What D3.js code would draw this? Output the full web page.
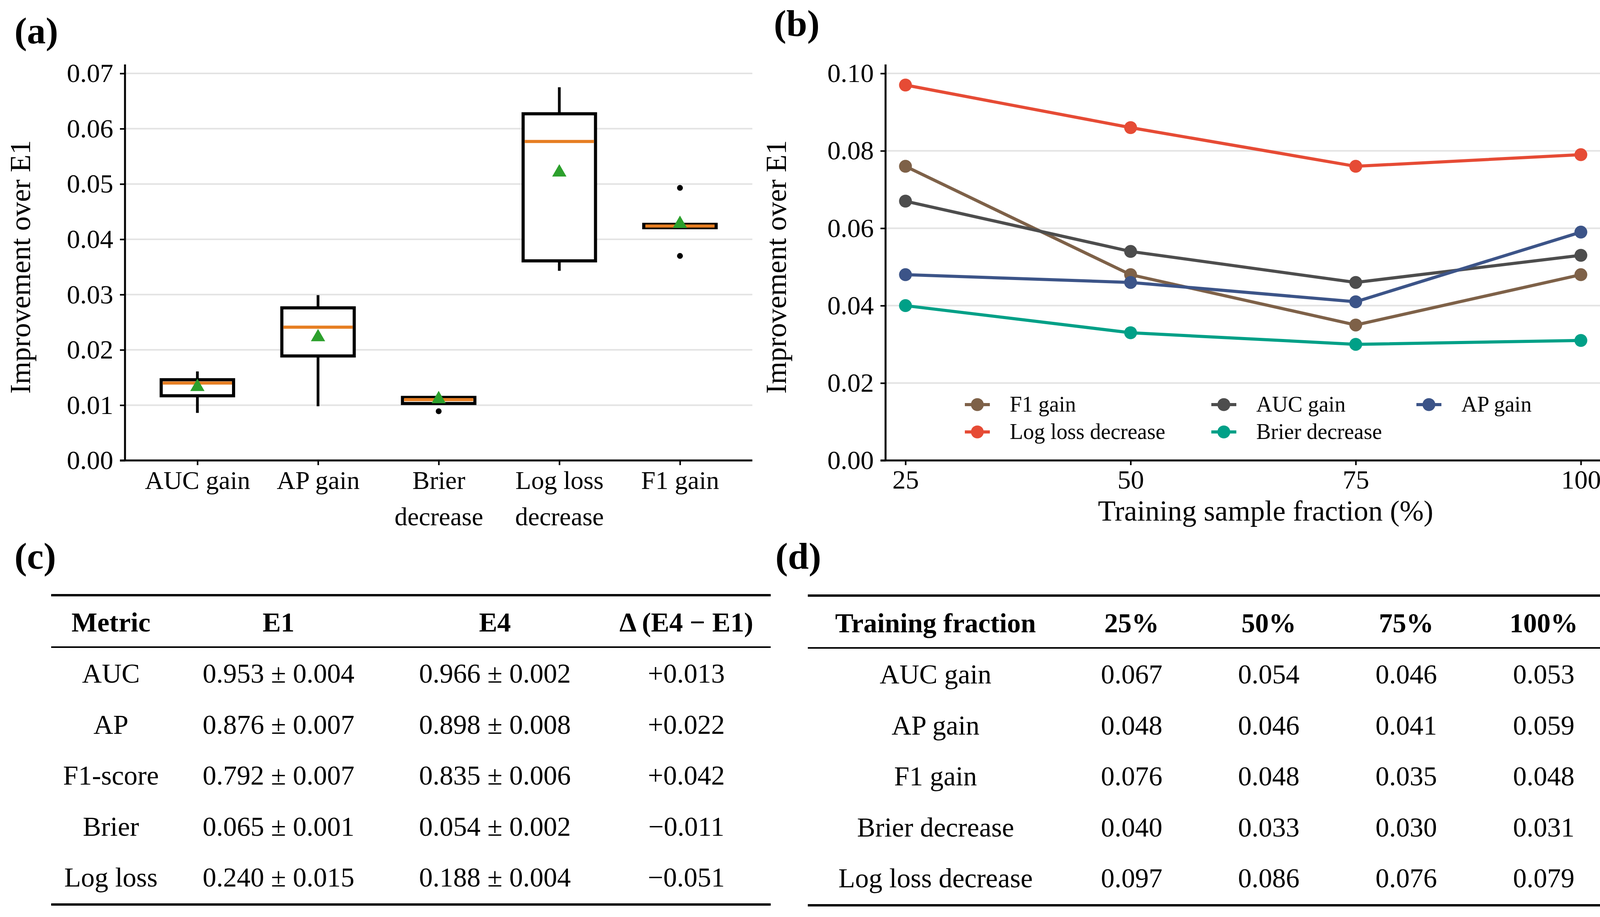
<!DOCTYPE html>
<meta charset="utf-8">
<script src="https://d3js.org/d3.v7.min.js"></script>
<style>
  body { margin: 0; background: #fff; }
  svg text { font-family: "Liberation Serif", "Times New Roman", serif; fill: #000; }
</style>
<div id="fig"></div>
<script>
// ---- panel (a): box plot summary per metric ----
const boxCats = ["AUC gain", "AP gain", "Brier decrease", "Log loss decrease", "F1 gain"];
const boxLabels = [["AUC gain"], ["AP gain"], ["Brier", "decrease"], ["Log loss", "decrease"], ["F1 gain"]];
const whiskLow  = [0.0086, 0.0098, 0.0103, 0.0343, 0.0421];
const boxQ1     = [0.0117, 0.0189, 0.0103, 0.0361, 0.0421];
const boxMedian = [0.0140, 0.0241, 0.0110, 0.0577, 0.0424];
const boxQ3     = [0.0146, 0.0276, 0.0114, 0.0627, 0.0427];
const whiskHigh = [0.0161, 0.0299, 0.0114, 0.0675, 0.0427];
const boxMean   = [0.0133, 0.0223, 0.0111, 0.0521, 0.0428];
const outliers  = [[], [], [0.0089], [], [0.0493, 0.0370]];
const ticksA = [0, 0.01, 0.02, 0.03, 0.04, 0.05, 0.06, 0.07];

// ---- panel (b): improvement vs training fraction ----
const fractions = [25, 50, 75, 100];
const seriesNames = ["F1 gain", "AUC gain", "AP gain", "Log loss decrease", "Brier decrease"];
const f1Gain          = [0.076, 0.048, 0.035, 0.048];
const aucGain         = [0.067, 0.054, 0.046, 0.053];
const apGain          = [0.048, 0.046, 0.041, 0.059];
const logLossDecrease = [0.097, 0.086, 0.076, 0.079];
const brierDecrease   = [0.040, 0.033, 0.030, 0.031];
const seriesColors = ["#7E6148", "#4D4D4D", "#3C5488", "#E64B35", "#00A087"];
const ticksB = [0, 0.02, 0.04, 0.06, 0.08, 0.10];

// ---- panel (c): table ----
const headC = ["Metric", "E1", "E4", "\u0394 (E4 \u2212 E1)"];
const metricC = ["AUC", "AP", "F1-score", "Brier", "Log loss"];
const e1C = ["0.953 \u00b1 0.004", "0.876 \u00b1 0.007", "0.792 \u00b1 0.007", "0.065 \u00b1 0.001", "0.240 \u00b1 0.015"];
const e4C = ["0.966 \u00b1 0.002", "0.898 \u00b1 0.008", "0.835 \u00b1 0.006", "0.054 \u00b1 0.002", "0.188 \u00b1 0.004"];
const deltaC = ["+0.013", "+0.022", "+0.042", "\u22120.011", "\u22120.051"];

// ---- panel (d): table ----
const headD = ["Training fraction", "25%", "50%", "75%", "100%"];
const rowNamesD = ["AUC gain", "AP gain", "F1 gain", "Brier decrease", "Log loss decrease"];

const W = 4161, H = 2348;
const svg = d3.select("#fig").append("svg")
    .attr("width", W).attr("height", H)
    .attr("viewBox", `0 0 ${W} ${H}`);
svg.append("rect").attr("width", W).attr("height", H).attr("fill", "#fff");

// panel letters
const letters = [["(a)", 37, 111], ["(b)", 1981, 92], ["(c)", 37, 1456], ["(d)", 1985, 1456]];
svg.selectAll("text.letter").data(letters).join("text")
    .attr("class", "letter")
    .attr("x", d => d[1]).attr("y", d => d[2])
    .attr("font-size", 96).attr("font-weight", "bold")
    .text(d => d[0]);

const gridCol = "#e3e3e3";

// ================= panel (a) =================
const xA = d3.scalePoint().domain(boxCats).range([320, 1926]).padding(0.6);
const yA = d3.scaleLinear().domain([0, 0.07]).range([1179, 188]);
const gA = svg.append("g");

gA.selectAll("line.grid").data(ticksA.slice(1)).join("line")
    .attr("x1", 320).attr("x2", 1926)
    .attr("y1", d => yA(d)).attr("y2", d => yA(d))
    .attr("stroke", gridCol).attr("stroke-width", 4);

const axLA = gA.append("g").attr("transform", "translate(320,0)")
    .call(d3.axisLeft(yA).tickValues(ticksA).tickFormat(d3.format(".2f")).tickSize(13).tickPadding(17));
const axBA = gA.append("g").attr("transform", "translate(0,1179)")
    .call(d3.axisBottom(xA).tickSize(12).tickPadding(14));
[axLA, axBA].forEach(a => {
  a.select(".domain").remove();
  a.selectAll(".tick line").attr("stroke", "#000").attr("stroke-width", 4);
  a.selectAll(".tick text").attr("font-size", 68).attr("font-family", "Liberation Serif");
});
axBA.selectAll(".tick text").attr("font-size", 66).text(null)
    .each(function(d) {
      const lines = boxLabels[boxCats.indexOf(d)];
      d3.select(this).selectAll("tspan").data(lines).join("tspan")
        .attr("x", 0).attr("dy", (l, i) => i === 0 ? "0.71em" : "1.41em")
        .text(l => l);
    });
gA.append("line").attr("x1", 320).attr("x2", 320).attr("y1", 165).attr("y2", 1181)
    .attr("stroke", "#000").attr("stroke-width", 5);
gA.append("line").attr("x1", 307).attr("x2", 1926).attr("y1", 1179).attr("y2", 1179)
    .attr("stroke", "#000").attr("stroke-width", 5);

gA.append("text").attr("transform", `translate(77,${(yA(0) + yA(0.07)) / 2}) rotate(-90)`)
    .attr("text-anchor", "middle").attr("font-size", 74).text("Improvement over E1");

const bw = xA.step() * 0.6;
const boxes = boxCats.map((c, i) => ({c, lo: whiskLow[i], q1: boxQ1[i], med: boxMedian[i],
  q3: boxQ3[i], hi: whiskHigh[i], mean: boxMean[i], out: outliers[i]}));
const bg = gA.selectAll("g.box").data(boxes).join("g").attr("class", "box")
    .attr("transform", d => `translate(${xA(d.c)},0)`);
bg.append("line").attr("y1", d => yA(d.hi)).attr("y2", d => yA(d.q3))
    .attr("stroke", "#000").attr("stroke-width", 7);
bg.append("line").attr("y1", d => yA(d.q1)).attr("y2", d => yA(d.lo))
    .attr("stroke", "#000").attr("stroke-width", 7);
bg.append("rect").attr("x", -bw / 2).attr("width", bw)
    .attr("y", d => yA(d.q3)).attr("height", d => yA(d.q1) - yA(d.q3))
    .attr("fill", "#fff").attr("stroke", "#000").attr("stroke-width", 8);
bg.append("line").attr("x1", -bw / 2 + 4).attr("x2", bw / 2 - 4)
    .attr("y1", d => yA(d.med)).attr("y2", d => yA(d.med))
    .attr("stroke", "#E67E22").attr("stroke-width", 8);
bg.append("path").attr("d", d3.symbol(d3.symbolTriangle, 580)())
    .attr("transform", d => `translate(0,${yA(d.mean)})`)
    .attr("fill", "#2CA02C");
bg.selectAll("circle").data(d => d.out).join("circle")
    .attr("cy", v => yA(v)).attr("r", 7.5).attr("fill", "#000");

// ================= panel (b) =================
const xB = d3.scaleLinear().domain([25, 100]).range([2318, 4047]);
const yB = d3.scaleLinear().domain([0, 0.10]).range([1179, 188]);
const gB = svg.append("g");

gB.selectAll("line.grid").data(ticksB.slice(1)).join("line")
    .attr("x1", 2267).attr("x2", 4101)
    .attr("y1", d => yB(d)).attr("y2", d => yB(d))
    .attr("stroke", gridCol).attr("stroke-width", 4);

const axLB = gB.append("g").attr("transform", "translate(2267,0)")
    .call(d3.axisLeft(yB).tickValues(ticksB).tickFormat(d3.format(".2f")).tickSize(13).tickPadding(17));
const axBB = gB.append("g").attr("transform", "translate(0,1179)")
    .call(d3.axisBottom(xB).tickValues(fractions).tickFormat(d3.format("d")).tickSize(12).tickPadding(12));
[axLB, axBB].forEach(a => {
  a.select(".domain").remove();
  a.selectAll(".tick line").attr("stroke", "#000").attr("stroke-width", 4);
  a.selectAll(".tick text").attr("font-size", 68).attr("font-family", "Liberation Serif");
});
gB.append("line").attr("x1", 2267).attr("x2", 2267).attr("y1", 165).attr("y2", 1181)
    .attr("stroke", "#000").attr("stroke-width", 5);
gB.append("line").attr("x1", 2254).attr("x2", 4101).attr("y1", 1179).attr("y2", 1179)
    .attr("stroke", "#000").attr("stroke-width", 5);

gB.append("text").attr("transform", `translate(2012,${(yB(0) + yB(0.1)) / 2}) rotate(-90)`)
    .attr("text-anchor", "middle").attr("font-size", 74).text("Improvement over E1");
gB.append("text").attr("x", 3240).attr("y", 1333)
    .attr("text-anchor", "middle").attr("font-size", 74).text("Training sample fraction (%)");

const seriesVals = [f1Gain, aucGain, apGain, logLossDecrease, brierDecrease];
const series = seriesNames.map((n, i) => ({name: n, color: seriesColors[i],
  pts: fractions.map((f, j) => ({f, v: seriesVals[i][j]}))}));
const line = d3.line().x(d => xB(d.f)).y(d => yB(d.v));
const sg = gB.selectAll("g.series").data(series).join("g").attr("class", "series");
sg.append("path").attr("d", d => line(d.pts))
    .attr("fill", "none").attr("stroke", d => d.color).attr("stroke-width", 8);
sg.selectAll("circle").data(d => d.pts.map(p => ({...p, color: d.color}))).join("circle")
    .attr("cx", d => xB(d.f)).attr("cy", d => yB(d.v)).attr("r", 16.5)
    .attr("fill", d => d.color);

// legend: 3 columns, filled by row
const legX = [2502, 3133, 3658], legY = [1036, 1106];
const lg = gB.selectAll("g.leg").data(series).join("g").attr("class", "leg")
    .attr("transform", (d, i) => `translate(${legX[i % 3]},${legY[Math.floor(i / 3)]})`);
lg.append("line").attr("x1", -32).attr("x2", 32)
    .attr("stroke", d => d.color).attr("stroke-width", 8);
lg.append("circle").attr("r", 16.5).attr("fill", d => d.color);
lg.append("text").attr("x", 83).attr("dy", "0.33em").attr("font-size", 56).text(d => d.name);

// ================= tables =================
function drawTable(x0, x1, cols, head, rows, rules, headY, rowY0, rowStep) {
  const g = svg.append("g");
  g.selectAll("line.rule").data(rules).join("line")
      .attr("x1", x0).attr("x2", x1)
      .attr("y1", d => d[0]).attr("y2", d => d[0])
      .attr("stroke", "#000").attr("stroke-width", d => d[1]);
  g.selectAll("text.head").data(head).join("text")
      .attr("x", (d, i) => cols[i]).attr("y", headY)
      .attr("text-anchor", "middle").attr("font-size", 70).attr("font-weight", "bold")
      .text(d => d);
  const rg = g.selectAll("g.row").data(rows).join("g")
      .attr("transform", (d, i) => `translate(0,${rowY0 + i * rowStep})`);
  rg.selectAll("text").data(d => d).join("text")
      .attr("x", (d, i) => cols[i]).attr("text-anchor", "middle")
      .attr("font-size", 70).text(d => d);
}

const rowsC = metricC.map((m, i) => [m, e1C[i], e4C[i], deltaC[i]]);
drawTable(131, 1973, [284, 713, 1267, 1757], headC, rowsC,
    [[1524, 6], [1657, 4], [2316, 6]], 1617, 1748, 130.5);

const valsD = [aucGain, apGain, f1Gain, brierDecrease, logLossDecrease];
const rowsD = rowNamesD.map((n, i) => [n, ...valsD[i].map(v => v.toFixed(3))]);
drawTable(2068, 4125, [2395, 2897, 3248, 3600, 3952], headD, rowsD,
    [[1525, 6], [1659, 4], [2318, 6]], 1619, 1750, 130.5);
</script>
